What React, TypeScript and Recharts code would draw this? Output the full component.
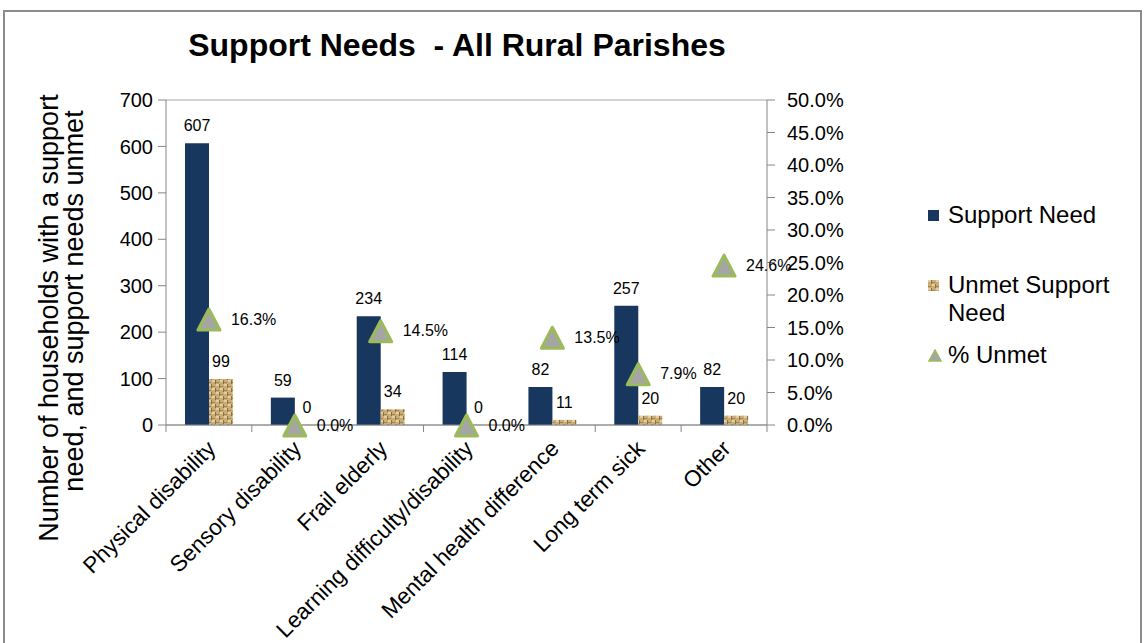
import React from 'react';
import {
  Bar,
  CartesianGrid,
  ComposedChart,
  LabelList,
  Line,
  XAxis,
  YAxis,
} from 'recharts';

const categories = [
  'Physical disability',
  'Sensory disability',
  'Frail elderly',
  'Learning difficulty/disability',
  'Mental health difference',
  'Long term sick',
  'Other',
];
const supportNeed = [607, 59, 234, 114, 82, 257, 82];
const unmetNeed = [99, 0, 34, 0, 11, 20, 20];
const pctUnmet = [16.3, 0.0, 14.5, 0.0, 13.5, 7.9, 24.6];
const countTicks = [0, 100, 200, 300, 400, 500, 600, 700];
const pctTicks = [0, 5, 10, 15, 20, 25, 30, 35, 40, 45, 50];

const NAVY = '#17375E';
const FONT = '"Liberation Sans", Arial, sans-serif';
const AXIS_GRAY = '#868686';
const HALF_BAND = 42.9;

const chartData = categories.map((name, i) => ({
  name,
  need: supportNeed[i],
  unmet: unmetNeed[i],
  pct: pctUnmet[i],
}));

// little burlap texture used for the unmet bars
const Burlap = ({ id }: { id: string }) => (
  <pattern id={id} width={8} height={8} patternUnits="userSpaceOnUse">
    <rect width={8} height={8} fill="#C9AD78" />
    <rect x={0} y={0} width={3} height={2} fill="#E4CF9C" />
    <rect x={4} y={4} width={3} height={2} fill="#E4CF9C" />
    <rect x={3} y={0} width={1} height={4} fill="#8E6D3F" />
    <rect x={7} y={4} width={1} height={4} fill="#8E6D3F" />
    <rect x={0} y={6} width={3} height={1} fill="#A5834F" />
    <rect x={4} y={2} width={3} height={1} fill="#A5834F" />
  </pattern>
);

const Triangle = (props: any) => {
  const { cx, cy } = props;
  if (cx == null || cy == null) return null;
  return (
    <polygon
      points={`${cx},${cy - 10} ${cx - 11},${cy + 11} ${cx + 11},${cy + 11}`}
      fill="#A5A5A5"
      stroke="#9BBB59"
      strokeWidth={3}
      strokeLinejoin="round"
    />
  );
};

const CategoryTick = (props: any) => {
  const { x, y, payload, index } = props;
  const axisY = y - 10;
  const ax = x + 8;
  const ay = axisY + 25;
  return (
    <g>
      <line x1={x + HALF_BAND} x2={x + HALF_BAND} y1={axisY} y2={axisY + 7} stroke={AXIS_GRAY} />
      {index === 0 && (
        <line x1={x - HALF_BAND} x2={x - HALF_BAND} y1={axisY} y2={axisY + 7} stroke={AXIS_GRAY} />
      )}
      <text
        x={ax}
        y={ay}
        transform={`rotate(-45, ${ax}, ${ay})`}
        textAnchor="end"
        fontSize={22.5}
        fontFamily={FONT}
        fill="#000"
      >
        {payload.value}
      </text>
    </g>
  );
};

const legendRow: React.CSSProperties = {
  position: 'absolute',
  left: 928,
  display: 'flex',
  alignItems: 'flex-start',
  fontFamily: FONT,
  fontSize: 24,
  lineHeight: '28px',
  color: '#000',
};

export default function App() {
  return (
    <div style={{ position: 'absolute', left: 0, top: 0, width: 1144, height: 643, background: '#fff', overflow: 'hidden' }}>
      <div
        style={{
          position: 'absolute',
          left: 3,
          top: 10,
          width: 1135,
          height: 640,
          border: '2px solid #8C8C8C',
        }}
      />
      <div
        style={{
          position: 'absolute',
          left: 0,
          width: 914,
          top: 26,
          lineHeight: '38px',
          textAlign: 'center',
          fontFamily: FONT,
          fontWeight: 'bold',
          fontSize: 32,
        }}
      >
        Support Needs&nbsp; - All Rural Parishes
      </div>

      <ComposedChart
        width={1144}
        height={643}
        data={chartData}
        margin={{ top: 100, right: 297, bottom: 18, left: 106 }}
        barGap={0}
        style={{ position: 'absolute', left: 0, top: 0 }}
      >
        <defs>
          <Burlap id="burlap" />
        </defs>
        <CartesianGrid vertical={false} stroke="#A6A6A6" />
        <XAxis
          dataKey="name"
          xAxisId="cat"
          height={200}
          interval={0}
          tickLine={false}
          tickSize={6}
          tickMargin={4}
          stroke={AXIS_GRAY}
          tick={<CategoryTick />}
        />
        <YAxis
          yAxisId="count"
          width={60}
          domain={[0, 700]}
          ticks={countTicks}
          stroke={AXIS_GRAY}
          tickSize={8}
          tickMargin={5}
          tick={{ fill: '#000', fontSize: 20, fontFamily: FONT }}
          label={{
            content: () => (
              <g fontFamily={FONT} fontSize={27} fill="#000" textAnchor="middle">
                <text x={58} y={318} transform="rotate(-90, 58, 318)">
                  Number of households with a support
                </text>
                <text x={83} y={301} transform="rotate(-90, 83, 301)">
                  need, and support needs unmet
                </text>
              </g>
            ),
          }}
        />
        <YAxis
          yAxisId="pct"
          orientation="right"
          width={80}
          domain={[0, 50]}
          ticks={pctTicks}
          stroke={AXIS_GRAY}
          tickSize={8}
          tickMargin={12}
          tickFormatter={(v: number) => `${v.toFixed(1)}%`}
          tick={{ fill: '#000', fontSize: 20, fontFamily: FONT }}
        />
        <Bar dataKey="need" xAxisId="cat" yAxisId="count" fill={NAVY} barSize={24} isAnimationActive={false}>
          <LabelList dataKey="need" position="top" offset={12} fill="#000" fontSize={16} fontFamily={FONT} />
        </Bar>
        <Bar
          dataKey="unmet"
          xAxisId="cat"
          yAxisId="count"
          fill="url(#burlap)"
          barSize={24}
          minPointSize={0.2}
          isAnimationActive={false}
        >
          <LabelList
            dataKey="unmet"
            position="top"
            offset={12}
            fill="#000"
            fontSize={16}
            fontFamily={FONT}
            formatter={(v: any) => String(v)}
          />
        </Bar>
        <Line
          dataKey="pct"
          xAxisId="cat"
          yAxisId="pct"
          stroke="none"
          dot={<Triangle />}
          activeDot={false}
          isAnimationActive={false}
        >
          <LabelList
            dataKey="pct"
            position="right"
            offset={22}
            fill="#000"
            fontSize={16}
            fontFamily={FONT}
            formatter={(v: any) => `${Number(v).toFixed(1)}%`}
          />
        </Line>
      </ComposedChart>

      {/* legend */}
      <div style={{ ...legendRow, top: 201 }}>
        <span style={{ display: 'inline-block', width: 11, height: 11, background: NAVY, marginTop: 9, marginRight: 9 }} />
        <span>Support Need</span>
      </div>
      <div style={{ ...legendRow, top: 271 }}>
        <svg width={11} height={11} style={{ marginTop: 9, marginRight: 9 }}>
          <defs>
            <Burlap id="burlapLegend" />
          </defs>
          <rect width={11} height={11} fill="url(#burlapLegend)" />
        </svg>
        <span>
          Unmet Support
          <br />
          Need
        </span>
      </div>
      <div style={{ ...legendRow, top: 341 }}>
        <svg width={14} height={13} style={{ marginTop: 8, marginRight: 6 }}>
          <polygon points="7,1 1,12 13,12" fill="#A5A5A5" stroke="#9BBB59" strokeWidth={1.5} />
        </svg>
        <span>% Unmet</span>
      </div>
    </div>
  );
}
